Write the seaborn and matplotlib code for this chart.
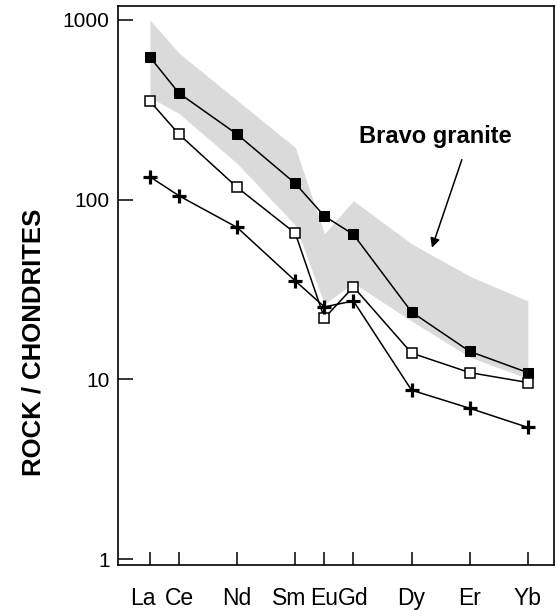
import numpy as np
import pandas as pd
import matplotlib
matplotlib.use("Agg")
import matplotlib.pyplot as plt
from matplotlib.ticker import FixedLocator, FixedFormatter, NullLocator
from matplotlib.transforms import ScaledTranslation
import seaborn as sns

# Rare earth elements (x positioned by atomic number)
elements = ["La", "Ce", "Nd", "Sm", "Eu", "Gd", "Dy", "Er", "Yb"]
atomic_number = [57, 58, 60, 62, 63, 64, 66, 68, 70]

# Chondrite-normalised abundances
sample_filled = [621, 391, 231, 123, 81, 64, 23.7, 14.3, 10.9]
sample_open = [353, 231, 117, 65, 21.9, 32.7, 14.0, 10.9, 9.6]
sample_cross = [134, 105, 70, 35.3, 25.3, 27.3, 8.7, 6.9, 5.4]

# Bravo granite field envelope
bravo_upper = [1000, 654, 357, 195, 64.6, 98.7, 56.8, 37.5, 27.3]
bravo_lower = [371, 302, 159, 72, 26.2, 34.4, 21.1, 13.3, 10.1]

y_ticks = [1, 10, 100, 1000]
y_tick_labels = ["1", "10", "100", "1000"]

sns.set_theme(style="white")
plt.rcParams["font.family"] = ["Liberation Sans", "DejaVu Sans"]

fig = plt.figure(figsize=(5.57, 6.10), dpi=100)
ax = fig.add_axes([118 / 557, 1 - 565 / 610, (554 - 118) / 557, (565 - 6) / 610])

df = pd.DataFrame({
    "z": atomic_number,
    "filled": sample_filled,
    "open": sample_open,
    "cross": sample_cross,
})

ax.fill_between(atomic_number, bravo_lower, bravo_upper, color="#dadada", lw=0, zorder=1)

sns.lineplot(data=df, x="z", y="filled", ax=ax, color="black", lw=1.1,
             marker="s", markersize=7, markerfacecolor="black",
             markeredgecolor="black", sort=False, zorder=3)
sns.lineplot(data=df, x="z", y="open", ax=ax, color="black", lw=1.1,
             marker="s", markersize=7, markerfacecolor="white",
             markeredgecolor="black", markeredgewidth=1.1, sort=False, zorder=3)
sns.lineplot(data=df, x="z", y="cross", ax=ax, color="black", lw=1.1,
             marker="+", markersize=10, markeredgewidth=2.3,
             markeredgecolor="black", sort=False, zorder=3)

ax.set_yscale("log")
ax.set_ylim(0.926, 1196)
ax.set_xlim(55.9, 70.9)

ax.yaxis.set_major_locator(FixedLocator(y_ticks))
ax.yaxis.set_major_formatter(FixedFormatter(y_tick_labels))
ax.yaxis.set_minor_locator(NullLocator())
ax.set_xticks(atomic_number)
ax.set_xticklabels(elements)

ax.tick_params(axis="y", which="major", direction="in", left=True, right=False,
               length=11, width=1.1, color="black", labelsize=15, pad=6,
               labelcolor="black")
ax.tick_params(axis="x", which="major", direction="in", bottom=True, top=False,
               length=9.5, width=1.1, color="black", labelsize=16.5, pad=15.5,
               labelcolor="black")

# nudge crowded element labels left so they clear their neighbours
labels = ax.get_xticklabels()
for idx, dx in [(0, -0.07), (3, -0.06)]:
    lab = labels[idx]
    lab.set_transform(lab.get_transform() + ScaledTranslation(dx, 0, fig.dpi_scale_trans))

for s in ax.spines.values():
    s.set_color("black")
    s.set_linewidth(1.2)

ax.set_xlabel("")
ax.set_ylabel("ROCK / CHONDRITES", fontsize=18.5, fontweight="bold",
              color="black", labelpad=0, va="center")
ax.yaxis.set_label_coords(-(118 - 34) / 436, 1 - (342.5 - 6) / 559)

# field label with its pointer
ax.text(66.8, 10 ** ((559.5 - 137) / 179.7), "Bravo granite", ha="center",
        va="center", fontsize=17, fontweight="bold", color="black")
ax.annotate("", xy=(66.7, 54), xytext=(67.73, 167),
            arrowprops=dict(arrowstyle="-|>", color="black", lw=1.1,
                            mutation_scale=14, shrinkA=0, shrinkB=0))

fig.savefig("out.png", dpi=100)
